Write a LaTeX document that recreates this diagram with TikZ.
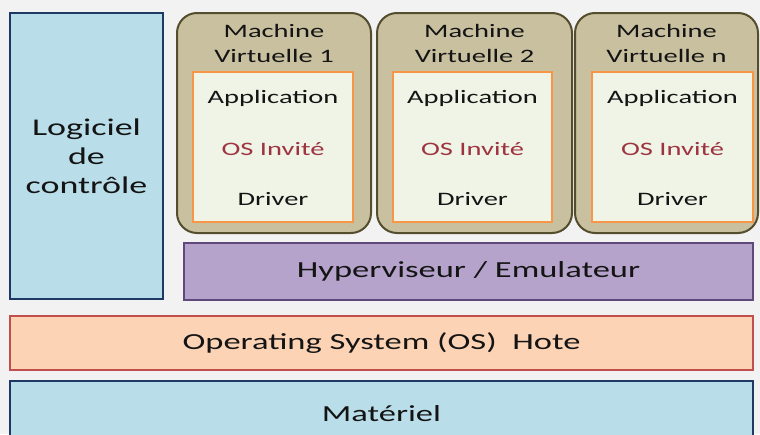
\documentclass[tikz,border=0pt]{standalone}
\usepackage{fontspec}
\setmainfont{Carlito}[FakeStretch=1.5]
\usetikzlibrary{positioning}
\definecolor{bgGray}{HTML}{F2F2F2}
\definecolor{hwFill}{HTML}{B9DEE9}
\definecolor{hwLine}{HTML}{1F3864}
\definecolor{vmFill}{HTML}{C8C09F}
\definecolor{vmLine}{HTML}{544D2E}
\definecolor{guestFill}{HTML}{EFF4E6}
\definecolor{guestLine}{HTML}{F79646}
\definecolor{hypFill}{HTML}{B5A3CB}
\definecolor{hypLine}{HTML}{5F497A}
\definecolor{hostFill}{HTML}{FCD3B5}
\definecolor{hostLine}{HTML}{C0504D}
\definecolor{txtDark}{HTML}{141414}
\definecolor{guestText}{HTML}{9E3440}
\begin{document}
\begin{tikzpicture}[x=1pt, y=-1pt,
  box/.style={draw, line width=1.5pt, inner sep=0pt, text=txtDark},
  stackbox/.style={box, font=\fontsize{23}{28}\selectfont},
  vm/.style={box, draw=vmLine, fill=vmFill, line width=2pt, rounded corners=20pt, minimum width=#1, minimum height=220pt},
  guest/.style={box, draw=guestLine, fill=guestFill, line width=2pt, minimum width=160pt, minimum height=150pt},
  vmlabel/.style={align=center, text=txtDark, font=\fontsize{19}{25}\selectfont},
  guestlabel/.style={anchor=base, text=txtDark, font=\fontsize{19}{23}\selectfont}]
\useasboundingbox (0,0) rectangle (760,434);
\clip (0,0) rectangle (760,434);
\fill[bgGray] (0,0) rectangle (760,434);
\node[stackbox, draw=hwLine, fill=hwFill, minimum width=153pt, minimum height=286pt, align=center, font=\fontsize{24}{29}\selectfont] (ctrl) at (86.5,156) {Logiciel\\de\\contrôle};
\node[vm=194pt] (vm1) at (274,123) {};
\node[vm=195pt] (vm2) at (474.5,123) {};
\node[vm=183pt] (vmn) at (666.5,123) {};
\node[guest] (g1) at (273,147) {};
\node[guest, minimum width=159pt] (g2) at (472.5,147) {};
\node[guest, minimum width=161pt] (gn) at (672.5,147) {};
\node[vmlabel] (t1) at (274,43) {Machine\\Virtuelle 1};
\node[vmlabel] (t2) at (474.5,43) {Machine\\Virtuelle 2};
\node[vmlabel] (tn) at (666.5,43) {Machine\\Virtuelle n};
\node[guestlabel] (app1) at (273,103) {Application};
\node[guestlabel, text=guestText] (os1) at (273,155) {OS Invité};
\node[guestlabel] (drv1) at (273,205) {Driver};
\node[guestlabel] (app2) at (472.5,103) {Application};
\node[guestlabel, text=guestText] (os2) at (472.5,155) {OS Invité};
\node[guestlabel] (drv2) at (472.5,205) {Driver};
\node[guestlabel] (appn) at (672.5,103) {Application};
\node[guestlabel, text=guestText] (osn) at (672.5,155) {OS Invité};
\node[guestlabel] (drvn) at (672.5,205) {Driver};
\node[stackbox, draw=hypLine, fill=hypFill, minimum width=569pt, minimum height=57pt] (hyp) at (468.5,271.5) {Hyperviseur / Emulateur};
\node[stackbox, draw=hostLine, fill=hostFill, minimum width=743pt, minimum height=54pt] (host) at (381.5,343) {Operating System (OS)\ \ Hote};
\node[stackbox, draw=hwLine, fill=hwFill, minimum width=743pt, minimum height=65pt] (hw) at (381.5,413.5) {Matériel};
\end{tikzpicture}
\end{document}
